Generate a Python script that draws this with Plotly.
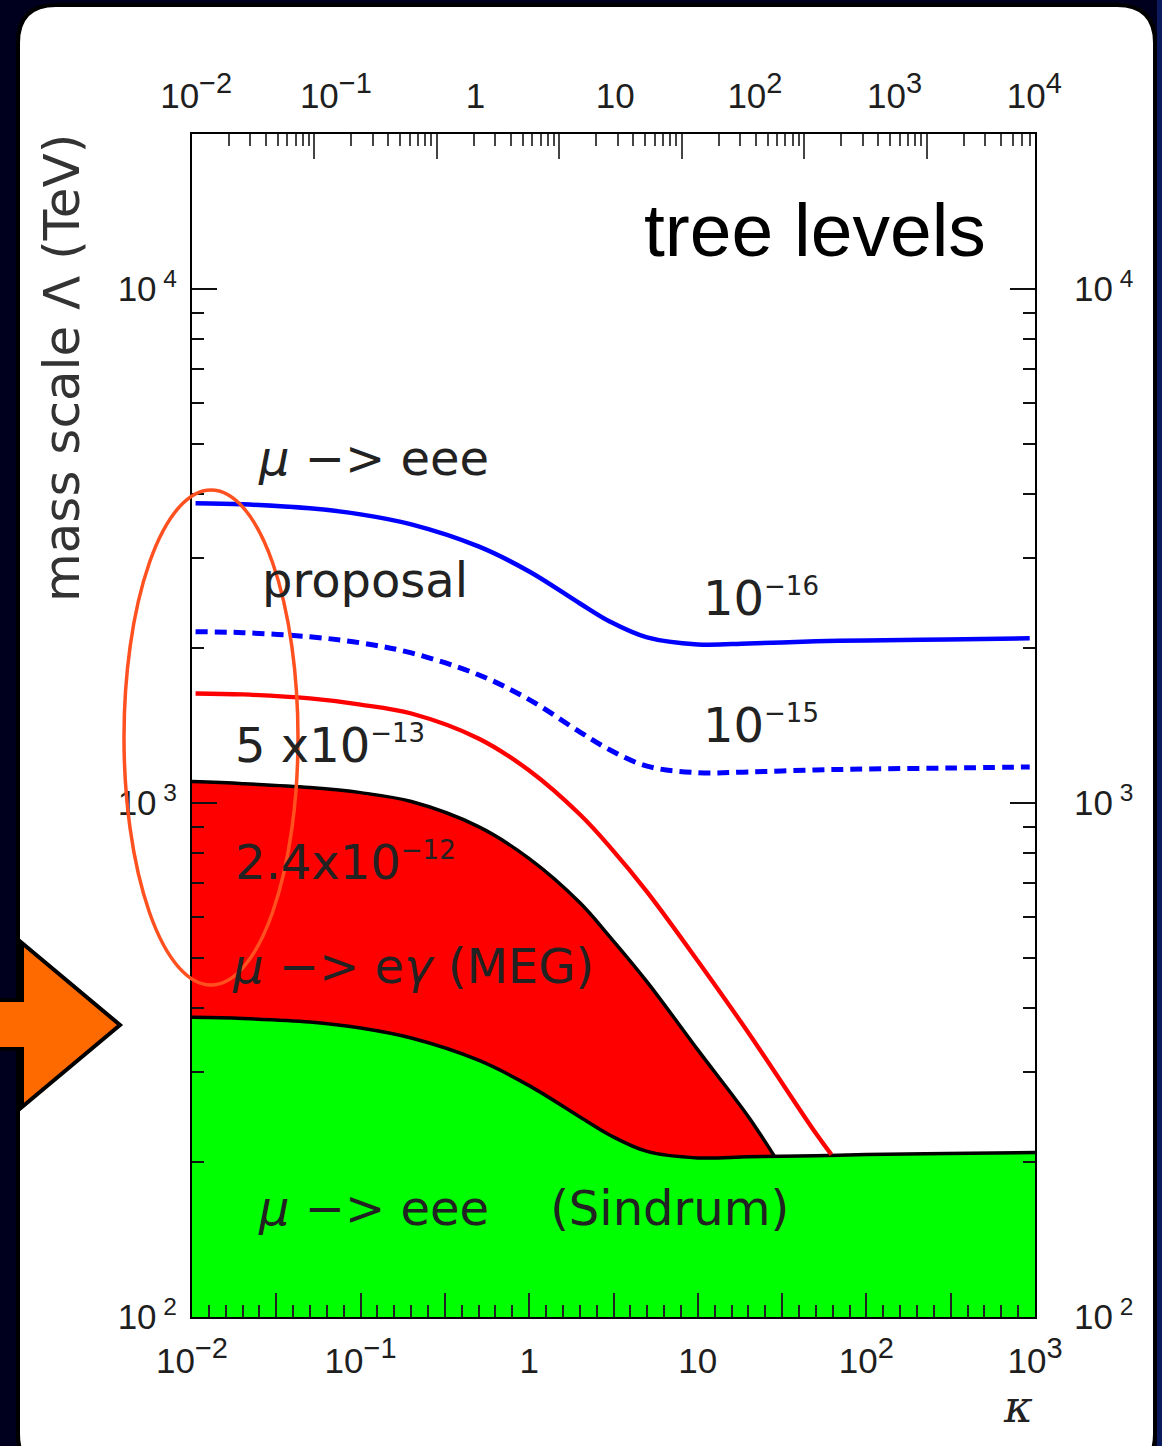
import plotly.graph_objects as go

# ---------------- data ----------------
# kappa grid for the mu -> eee proposal lines (10^-16 solid, 10^-15 dashed)
kappa_eee = [0.0105, 0.02, 0.05, 0.1, 0.2, 0.5, 1, 2, 3, 5, 10, 20, 50, 100, 300, 930]
lam_eee_1e16 = [3831, 3814, 3746, 3646, 3486, 3158, 2823, 2446, 2257, 2101, 2036, 2045, 2064, 2073, 2082, 2092]
lam_eee_1e15 = [2155, 2146, 2107, 2050, 1960, 1777, 1590, 1375, 1270, 1180, 1146, 1150, 1160, 1165, 1170, 1176]

# Sindrum mu -> eee excluded region (green)
kappa_sindrum = [0.01, 0.02, 0.05, 0.1, 0.2, 0.5, 1, 2, 3, 5, 10, 20, 50, 100, 300, 1000]
lam_sindrum = [383, 381, 375, 365, 349, 316, 282, 245, 226, 210, 204, 205, 206, 207, 208, 209]

# MEG mu -> e gamma 2.4x10^-12 excluded region (red)
kappa_meg = [0.01, 0.02, 0.05, 0.1, 0.2, 0.5, 1, 2, 3, 5, 10, 20, 30]
lam_meg = [1101, 1091, 1072, 1048, 1007, 900, 780, 640, 550, 449, 331, 245, 200]

# mu -> e gamma 5x10^-13 (red line)
kappa_meg_5e13 = [0.0105, 0.02, 0.05, 0.1, 0.2, 0.5, 1, 2, 3, 5, 10, 20, 50, 62]
lam_meg_5e13 = [1634, 1627, 1598, 1555, 1494, 1336, 1157, 950, 823, 672, 493, 357, 228, 207]

# tick labels
XS = "<sup><span style='font-size:29px'>%s</span></sup>"
bottom_labels = ["10" + XS % "−2", "10" + XS % "−1", "1", "10", "10" + XS % "2", "10" + XS % "3"]
top_labels = ["10" + XS % "−2", "10" + XS % "−1", "1", "10", "10" + XS % "2",
              "10" + XS % "3", "10" + XS % "4"]
y_labels = ["10<sup> 2</sup>", "10<sup> 3</sup>", "10<sup> 4</sup>"]

# ---------------- geometry helpers (decorations only) ----------------
W, H = 1162, 1446
L, R, T, B = 192, 1035, 134, 1317


def px(x):
    return (x - L) / (R - L)


def py(y):
    return (B - y) / (B - T)


def path_from(points, close=True):
    s = "M %f,%f" % (px(points[0][0]), py(points[0][1]))
    for p in points[1:]:
        s += " L %f,%f" % (px(p[0]), py(p[1]))
    return s + (" Z" if close else "")


def rounded_rect(x0, y0, x1, y1, r):
    def P(x, y):
        return "%f,%f" % (px(x), py(y))
    return ("M " + P(x0 + r, y0) + " L " + P(x1 - r, y0) +
            " Q " + P(x1, y0) + " " + P(x1, y0 + r) +
            " L " + P(x1, y1 - r) + " Q " + P(x1, y1) + " " + P(x1 - r, y1) +
            " L " + P(x0 + r, y1) + " Q " + P(x0, y1) + " " + P(x0, y1 - r) +
            " L " + P(x0, y0 + r) + " Q " + P(x0, y0) + " " + P(x0 + r, y0) + " Z")


# tick positions
bottom_decades = [10.0 ** k for k in range(-2, 4)]
bottom_half = [10 ** (-1.5 + k) for k in range(5)]
bottom_minor = [10 ** (-2 + 0.1 * i) for i in range(51) if i % 5]
top_major = [10.0 ** k for k in range(-1, 5)]
top_minor = [m * 10.0 ** k for k in range(-2, 5) for m in range(2, 10) if m * 10.0 ** k < 7.5e4]
top_label_vals = [10.0 ** k for k in range(-2, 5)]
y_major = [100, 1000, 10000]
y_minor = [m * 10.0 ** k for k in range(2, 5) for m in range(2, 10) if m * 10.0 ** k < 15000]

fig = go.Figure()

# red MEG region
fig.add_trace(go.Scatter(x=kappa_meg, y=lam_meg, mode="lines", fill="tozeroy",
                         fillcolor="#ff0000", line=dict(color="black", width=3.5, shape="spline"),
                         showlegend=False, hoverinfo="skip"))
# green Sindrum region
fig.add_trace(go.Scatter(x=kappa_sindrum, y=lam_sindrum, mode="lines", fill="tozeroy",
                         fillcolor="#00ff00", line=dict(color="black", width=3.5, shape="spline"),
                         showlegend=False, hoverinfo="skip"))
# red 5x10^-13 line
fig.add_trace(go.Scatter(x=kappa_meg_5e13, y=lam_meg_5e13, mode="lines",
                         line=dict(color="#ff0000", width=4.3, shape="spline"),
                         showlegend=False, hoverinfo="skip"))
# blue lines
fig.add_trace(go.Scatter(x=kappa_eee, y=lam_eee_1e15, mode="lines",
                         line=dict(color="#0000ff", width=5, shape="spline", dash="12px,7px"),
                         showlegend=False, hoverinfo="skip"))
fig.add_trace(go.Scatter(x=kappa_eee, y=lam_eee_1e16, mode="lines",
                         line=dict(color="#0000ff", width=4.5, shape="spline"),
                         showlegend=False, hoverinfo="skip"))
# dummy traces so the extra axes are drawn
for xa, ya in (("x2", "y"), ("x3", "y"), ("x4", "y"), ("x", "y2")):
    fig.add_trace(go.Scatter(x=[None], y=[None], xaxis=xa, yaxis=ya,
                             showlegend=False, hoverinfo="skip"))

tickfont = dict(family="Liberation Sans", size=35, color="#1e1e1e")
common = dict(showgrid=False, zeroline=False)

fig.update_layout(
    width=W, height=H, autosize=False,
    margin=dict(l=L, r=W - R, t=T, b=H - B, pad=0),
    paper_bgcolor="#00001e", plot_bgcolor="rgba(0,0,0,0)",
    showlegend=False,
    xaxis=dict(type="log", range=[-2, 3], side="bottom", anchor="y",
               showline=True, linecolor="black", linewidth=2,
               tickmode="array", tickvals=bottom_decades, ticktext=bottom_labels,
               ticks="inside", ticklen=24, tickwidth=1.5, tickcolor="#222",
               minor=dict(tickmode="array", tickvals=bottom_minor, ticks="inside",
                          ticklen=12, tickwidth=1.5, tickcolor="#222", showgrid=False),
               tickfont=tickfont, ticklabelstandoff=12, **common),
    xaxis4=dict(type="log", range=[-2, 3], side="bottom", overlaying="x", anchor="y",
                showline=False, tickmode="array", tickvals=bottom_half, showticklabels=False,
                ticks="inside", ticklen=24, tickwidth=1.5, tickcolor="#222", **common),
    xaxis2=dict(type="log", range=[-2, 4.882], side="top", overlaying="x", anchor="y",
                showline=True, linecolor="black", linewidth=2,
                tickmode="array", tickvals=top_major, showticklabels=False,
                ticks="inside", ticklen=25, tickwidth=1.5, tickcolor="#444",
                minor=dict(tickmode="array", tickvals=top_minor, ticks="inside",
                           ticklen=12, tickwidth=1.5, tickcolor="#444", showgrid=False),
                **common),
    xaxis3=dict(type="log", range=[-2.03, 4.005], side="top", overlaying="x", anchor="y",
                showline=False, tickmode="array", tickvals=top_label_vals, ticktext=top_labels,
                ticks="", tickfont=tickfont, ticklabelstandoff=18, **common),
    yaxis=dict(type="log", range=[2, 4.302], side="left", anchor="x",
               showline=True, linecolor="black", linewidth=2,
               tickmode="array", tickvals=y_major, ticktext=y_labels,
               ticks="inside", ticklen=25, tickwidth=1.5, tickcolor="#111",
               minor=dict(tickmode="array", tickvals=y_minor, ticks="inside",
                          ticklen=12, tickwidth=1.5, tickcolor="#111", showgrid=False),
               tickfont=tickfont, ticklabelstandoff=6, **common),
    yaxis2=dict(type="log", range=[2, 4.302], side="right", overlaying="y", anchor="x",
                showline=True, linecolor="black", linewidth=2,
                tickmode="array", tickvals=y_major, ticktext=y_labels,
                ticks="inside", ticklen=25, tickwidth=1.5, tickcolor="#111",
                minor=dict(tickmode="array", tickvals=y_minor, ticks="inside",
                           ticklen=12, tickwidth=1.5, tickcolor="#111", showgrid=False),
                tickfont=tickfont, ticklabelstandoff=30, **common),
)

shapes = []
# white rounded panel
shapes.append(dict(type="path", xref="paper", yref="paper", layer="below",
                   path=rounded_rect(18, 5, 1155, 1472, 38),
                   fillcolor="white", line=dict(color="black", width=4)))
# right-hand bluish strip of the slide background
shapes.append(dict(type="rect", xref="paper", yref="paper", layer="below",
                   x0=px(1157), x1=px(1170), y0=py(1460), y1=py(-10),
                   fillcolor="#0a1a5a", line=dict(width=0)))
# orange arrow
arrow_pts = [(-10, 1000), (22, 1000), (22, 943), (120, 1025), (22, 1107), (22, 1049), (-10, 1049)]
shapes.append(dict(type="path", xref="paper", yref="paper", layer="above",
                   path=path_from(arrow_pts), fillcolor="#ff6a00",
                   line=dict(color="black", width=4)))
# orange-red ellipse
shapes.append(dict(type="circle", xref="paper", yref="paper", layer="above",
                   x0=px(124), x1=px(298), y0=py(985), y1=py(490),
                   line=dict(color="#ff5020", width=3.5), fillcolor="rgba(0,0,0,0)"))
fig.update_layout(shapes=shapes)

lab = dict(family="DejaVu Sans", size=48, color="#222")


def ann(text, x, y, font=lab, xanchor="left", yanchor="middle", **kw):
    d = dict(text=text, x=px(x), y=py(y), xref="paper", yref="paper",
             xanchor=xanchor, yanchor=yanchor, showarrow=False, font=font)
    d.update(kw)
    return d


sup = "<sup><span style='font-size:26px'>%s</span></sup>"
annotations = [
    ann("tree levels", 642, 230, font=dict(family="Liberation Sans", size=75, color="black")),
    ann("<i>μ</i> −> eee", 256, 458),
    ann("proposal", 260, 580),
    ann("10" + sup % "−16", 701, 598),
    ann("10" + sup % "−15", 701, 725),
    ann("5 x10" + sup % "−13", 233, 745),
    ann("2.4x10" + sup % "−12", 233, 862),
    ann("<i>μ</i> −> e<i>γ</i> (MEG)", 230, 966),
    ann("<i>μ</i> −> eee    (Sindrum)", 256, 1208),
    ann("mass scale Λ (TeV)", 62, 368, font=dict(family="DejaVu Sans", size=50, color="#333"),
        xanchor="center", textangle=-90),
    ann("<i>κ</i>", 1018, 1406, font=dict(family="DejaVu Serif", size=44, color="#222"),
        xanchor="center"),
]
fig.update_layout(annotations=annotations)

fig.write_html("out.html", config={"displayModeBar": False},
               post_script="document.body.style.margin='0';document.body.style.background='#00001e';")
